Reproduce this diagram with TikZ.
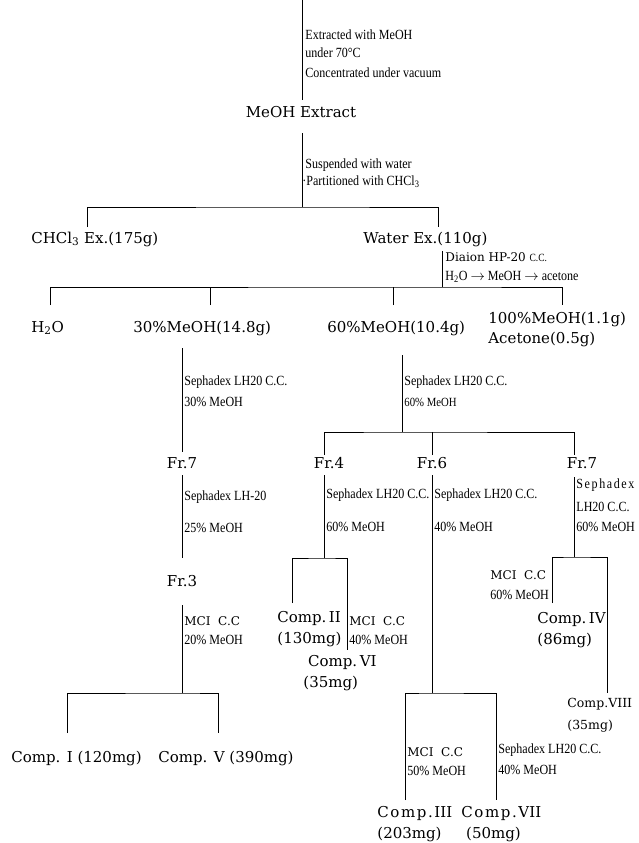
\documentclass[tikz,border=0pt]{standalone}
\usepackage{fontspec}
\setmainfont{DejaVu Serif}
\newfontfamily\notefont{Liberation Serif}[FakeStretch=0.86]
\newcommand\gapk{\kern1.6pt}
\begin{document}
\begin{tikzpicture}[x=1pt,y=-1pt,line width=.8pt,
  big/.style={font=\fontsize{15}{20}\selectfont,inner sep=1pt,text height=11pt,text depth=3pt},
  comp/.style={font=\fontsize{15}{21}\selectfont,inner sep=1pt,align=left,anchor=west},
  note/.style={font=\notefont\fontsize{14}{16}\selectfont,anchor=west,inner sep=1pt},
  mci/.style={font=\fontsize{12}{14}\selectfont,anchor=west,inner sep=1pt}]
\useasboundingbox (0,0) rectangle (638,843);

\coordinate (src) at (302,0);
\node[big] (ext) at (301,113) {MeOH Extract};
\node[big,anchor=west] (chcl) at (30,239) {CHCl\textsubscript{3} Ex.(175g)};
\node[big,anchor=west] (water) at (362,239) {Water Ex.(110g)};
\node[big,anchor=west] (h2o) at (30,328) {H\textsubscript{2}O};
\node[big,anchor=west] (m30) at (132,328) {30\%MeOH(14.8g)};
\node[big,anchor=west] (m60) at (326,328) {60\%MeOH(10.4g)};
\node[comp,font=\fontsize{15}{20}\selectfont] (m100) at (487,329) {100\%MeOH(1.1g)\\Acetone(0.5g)};
\node[big] (fr7a) at (182,464) {Fr.7};
\node[big] (fr4) at (329,464) {Fr.4};
\node[big] (fr6) at (432,464) {Fr.6};
\node[big] (fr7b) at (582,464) {Fr.7};
\node[big] (fr3) at (182,582) {Fr.3};
\node[comp] (c2) at (276,629) {Comp.\,II\\(130mg)};
\node[comp] (c6) at (302,673) {\ Comp.\,VI\\(35mg)};
\node[comp] (c4) at (536,630) {Comp.\,IV\\(86mg)};
\node[comp,font=\fontsize{12.5}{19}\selectfont] (c8) at (566,715) {Comp.VIII\\[3pt](35mg)};
\node[comp] (c1) at (10,758) {Comp. I (120mg)};
\node[comp] (c5) at (157,758) {Comp. V (390mg)};
\node[comp] (c3) at (376,824) {C\gapk o\gapk m\gapk p\gapk.\gapk III\\(203mg)};
\node[comp] (c7) at (460,824) {C\gapk o\gapk m\gapk p\gapk.\gapk VII\\\ (50mg)};

\node[note] at (304,35) {Extracted with MeOH};
\node[note] at (304,53) {under 70°C};
\node[note] at (304,73) {Concentrated under vacuum};
\node[note] at (304,165) {Suspended with water};
\node[note] at (301,182) {·Partitioned with CHCl\textsubscript{3}};
\node[mci] at (444,257) {Diaion HP-20 {\notefont\fontsize{11}{12}\selectfont C.C.}};
\node[note] at (444,277) {H\textsubscript{2}O $\rightarrow$ MeOH $\rightarrow$ acetone};
\node[note] at (183,382) {Sephadex LH20 C.C.};
\node[note] at (183,402) {30\% MeOH};
\node[note] at (403,382) {Sephadex LH20 C.C.};
\node[note,font=\notefont\fontsize{12.5}{14}\selectfont] at (403,402) {60\% MeOH};
\node[note] at (183,497) {Sephadex LH-20};
\node[note] at (183,528) {25\% MeOH};
\node[note] at (325,495) {Sephadex LH20 C.C.};
\node[note] at (325,527) {60\% MeOH};
\node[note] at (433,495) {Sephadex LH20 C.C.};
\node[note] at (433,527) {40\% MeOH};
\node[note] at (575,485) {S\gapk e\gapk p\gapk h\gapk a\gapk d\gapk e\gapk x};
\node[note] at (575,507) {LH20 C.C.};
\node[note] at (575,527) {60\% MeOH};
\node[mci] at (183,621) {MCI\ \ C.C};
\node[note] at (183,640) {20\% MeOH};
\node[mci] at (348,621) {MCI\ \ C.C};
\node[note] at (348,640) {40\% MeOH};
\node[mci] at (489,575) {MCI\ \ C.C};
\node[note] at (489,595) {60\% MeOH};
\node[mci] at (406,752) {MCI\ \ C.C};
\node[note] at (406,771) {50\% MeOH};
\node[note] at (497,750) {Sephadex LH20 C.C.};
\node[note] at (497,770) {40\% MeOH};

\coordinate (jext) at (302,207);
\coordinate (tchcl) at (87,227);
\coordinate (twater) at (438,227);
\coordinate (jwater) at (442,287);
\coordinate (th2o) at (50,305);
\coordinate (tm30) at (210,305);
\coordinate (tm60) at (393,305);
\coordinate (tm100) at (562,305);
\coordinate (jm60) at (402,432);
\coordinate (tfr4) at (324,455);
\coordinate (tfr6) at (432,455);
\coordinate (tfr7) at (574,455);
\coordinate (jfr3) at (182,693);
\coordinate (tc1) at (67,733);
\coordinate (tc5) at (218,733);
\coordinate (jfr4) at (324,558);
\coordinate (tc2) at (292,603);
\coordinate (tc6) at (347,650);
\coordinate (jfr6) at (432,693);
\coordinate (tc3) at (405,800);
\coordinate (tc7) at (496,800);
\coordinate (jfr7) at (574,557);
\coordinate (tc4) at (552,603);
\coordinate (tc8) at (607,693);

\draw[shorten >=5pt] (src) -- (ext.north -| src);
\draw[shorten <=12pt] (ext.south -| jext) -- (jext);
\draw (tchcl) |- (jext) -| (twater);
\draw[shorten <=4pt] (water.south -| jwater) -- (jwater);
\draw (th2o) |- (jwater) -| (tm100);
\draw (tm30) -- (tm30 |- jwater);
\draw (tm60) -- (tm60 |- jwater);
\draw[shorten <=12pt,shorten >=4pt] (m30.south -| fr7a) -- (fr7a.north);
\draw[shorten <=19pt] (m60.south -| jm60) -- (jm60);
\draw (tfr4) |- (jm60) -| (tfr7);
\draw (tfr6) -- (tfr6 |- jm60);
\draw[shorten <=3pt,shorten >=16pt] (fr7a.south) -- (fr3.north);
\draw[shorten <=15pt] (fr3.south) -- (jfr3);
\draw (tc1) |- (jfr3) -| (tc5);
\draw[shorten <=3pt] (fr4.south -| jfr4) -- (jfr4);
\draw (tc2) |- (jfr4) -| (tc6);
\draw[shorten <=3pt] (fr6.south -| jfr6) -- (jfr6);
\draw (tc3) |- (jfr6) -| (tc7);
\draw[shorten <=5pt] (fr7b.south -| jfr7) -- (jfr7);
\draw (tc4) |- (jfr7) -| (tc8);
\end{tikzpicture}
\end{document}
